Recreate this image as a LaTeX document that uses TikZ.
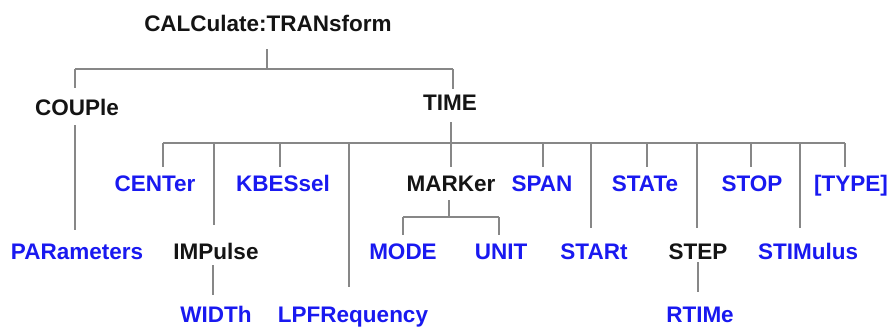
\documentclass[tikz,border=0pt]{standalone}
\usepackage{fontspec}
\setmainfont{Liberation Sans}
\definecolor{cmdblue}{RGB}{25,25,240}
\definecolor{lngray}{RGB}{135,135,135}
\definecolor{txtblack}{RGB}{20,20,20}
\begin{document}
\begin{tikzpicture}[x=1pt,y=-1pt,
  ln/.style={draw=lngray,line width=1.7pt},
  lbl/.style={font=\bfseries\fontsize{22.5}{22.5}\selectfont,inner sep=0pt,anchor=base},
  blk/.style={lbl,text=txtblack},
  blu/.style={lbl,text=cmdblue}]
\useasboundingbox (0,0) rectangle (891,327);
% labels
\node[blk] (calc) at (268,31) {CALCulate:TRANsform};
\node[blk] (couple) at (77,115) {COUPle};
\node[blk] (time) at (450,110) {TIME};
\node[blu] (center) at (155,191) {CENTer};
\node[blu] (kbes) at (283,191) {KBESsel};
\node[blk] (marker) at (451,191) {MARKer};
\node[blu] (span) at (542,191) {SPAN};
\node[blu] (state) at (645,191) {STATe};
\node[blu] (stop) at (752,191) {STOP};
\node[blu] (type) at (851,191) {[TYPE]};
\node[blu] (par) at (77,259) {PARameters};
\node[blk] (imp) at (216,259) {IMPulse};
\node[blu] (mode) at (403,259) {MODE};
\node[blu] (unit) at (501,259) {UNIT};
\node[blu] (start) at (594,259) {STARt};
\node[blk] (step) at (698,259) {STEP};
\node[blu] (stim) at (808,259) {STIMulus};
\node[blu] (width) at (216,322) {WIDTh};
\node[blu] (lpf) at (353,322) {LPFRequency};
\node[blu] (rtime) at (700,322) {RTIMe};
% junctions
\coordinate (j0) at (267,69);
\coordinate (j0l) at (75,69);
\coordinate (j0r) at (453,69);
\coordinate (j1) at (451,143);
\coordinate (j1l) at (163,143);
\coordinate (j1r) at (845,143);
\coordinate (j2) at (449,217);
\coordinate (j2l) at (403,217);
\coordinate (j2r) at (499,217);
% top level
\draw[ln] (j0) -- ++(0,-20);
\draw[ln] (j0l) -- (j0r);
\draw[ln] (j0l) -- ++(0,19);
\draw[ln] (j0r) -- ++(0,20);
\draw[ln] (75,125) -- (75,230);
% TIME bus
\draw[ln] (j1) -- ++(0,-21);
\draw[ln] (j1l) -- (j1r);
\foreach \x in {163,280,451,543,647,751,845}
  \draw[ln] (\x,143) -- (\x,167);
\draw[ln] (214,143) -- (214,225);
\draw[ln] (349,143) -- (349,287);
\draw[ln] (591,143) -- (591,228);
\draw[ln] (697,143) -- (697,228);
\draw[ln] (800,143) -- (800,228);
% MARKer subtree
\draw[ln] (j2) -- ++(0,-17);
\draw[ln] (j2l) -- (j2r);
\draw[ln] (j2l) -- ++(0,18);
\draw[ln] (j2r) -- ++(0,18);
% IMPulse and STEP children
\draw[ln] (213,265) -- (213,295);
\draw[ln] (698,262) -- (698,292);
\end{tikzpicture}
\end{document}
